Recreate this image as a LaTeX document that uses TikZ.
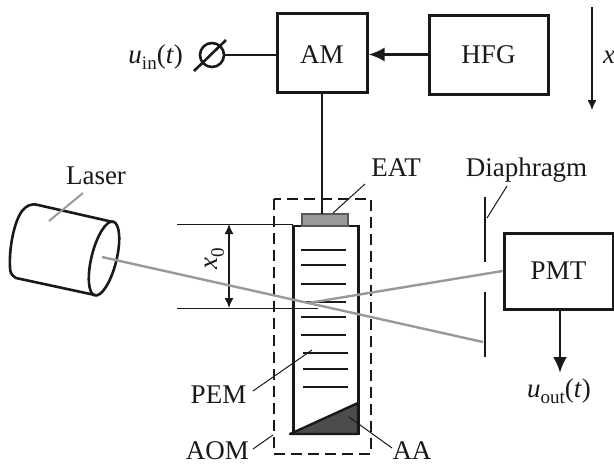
\documentclass[tikz,border=0pt]{standalone}
\usepackage{fontspec}
\setmainfont{Liberation Serif}
\usetikzlibrary{arrows.meta}
\definecolor{ink}{gray}{0.1}
\definecolor{beam}{gray}{0.6}
\newcommand{\subtxt}[1]{\raisebox{-0.25em}{\fontsize{19}{20}\selectfont #1}}
\tikzset{
 x=1pt,y=-1pt,
 box/.style={draw=ink,line width=3pt,inner sep=0pt,font=\fontsize{27}{30}\selectfont,text=ink},
 lab/.style={inner sep=0pt,anchor=base,font=\fontsize{27}{30}\selectfont,text=ink},
 heavy/.style={draw=ink,line width=2.6pt},
 fine/.style={draw=ink,line width=1pt},
 bar/.style={draw=ink,line width=2.6pt},
 beamline/.style={draw=beam,line width=2.4pt},
 greyleader/.style={draw=beam,line width=2pt},
 bigarrow/.style={-{Latex[length=16pt,width=14pt]}},
 smallarrow/.style={-{Latex[length=10pt,width=9pt]}},
 dbl/.style={{Latex[length=10pt,width=9pt]}-{Latex[length=10pt,width=9pt]}},
}
\begin{document}
\begin{tikzpicture}
\useasboundingbox (0,0) rectangle (614,466);
% blocks
\node[box,minimum width=90pt,minimum height=79pt,text height=21pt,text depth=0pt] (am) at (322,52.5) {AM};
\node[box,minimum width=119pt,minimum height=79pt,text height=17pt,text depth=0pt] (hfg) at (488.5,54.5) {HFG};
\node[box,minimum width=109pt,minimum height=76pt,text height=16pt,text depth=0pt] (pmt) at (558.5,271) {PMT};
% input terminal
\coordinate (term) at (212,55);
\draw[heavy] (term) circle (12pt);
\coordinate (sa) at (194,71);
\coordinate (sb) at (226,40);
\draw[heavy] (sa) -- (sb);
\coordinate (tr) at (224,55);
\draw[heavy] (tr) -- (am.west |- tr);
\draw[heavy,bigarrow] (hfg.west) -- (am.east |- hfg.west);
% axis
\coordinate (xa) at (592,7);
\coordinate (xb) at (592,110);
\draw[draw=ink,line width=1.2pt,smallarrow] (xa) -- (xb);
% dashed AOM box
\draw[draw=ink,line width=2.2pt,dash pattern=on 11pt off 6pt] (274,199) rectangle (371,454);
% cell
\node[draw=ink,line width=2.6pt,minimum width=65pt,minimum height=208pt,inner sep=0pt] (cell) at (326,330) {};
\node[draw=black!65,fill=black!40,line width=2.2pt,minimum width=46pt,minimum height=12pt,inner sep=0pt] (eat) at (325,220) {};
\draw[heavy] (am.south -| 322,0) -- (322,214);
\foreach \y/\a/\b in {250/301/346,265/301/346,284/301/346,302/301/346,317/301/346,335/301/346,353/303/348,369/303/348,387/303/348}
  \draw[bar] (\a,\y) -- (\b,\y);
\draw[draw=ink,fill=black!70,line width=2.4pt,line join=round] (290,434) -- (358,403) -- (358,434) -- cycle;
% x0 markers
\coordinate (ta) at (177,224);
\coordinate (tb) at (293,224);
\coordinate (ba) at (177,308);
\coordinate (bb) at (318,308);
\draw[fine] (ta) -- (tb);
\draw[fine] (ba) -- (bb);
\coordinate (xta) at (229,224);
\coordinate (xtb) at (229,308);
\draw[draw=ink,line width=1.4pt,dbl] (xta) -- (xtb);
\node[lab,rotate=90,anchor=base] (xz) at (217,259) {\textit{x}\subtxt{0}};
% laser
\coordinate (lc) at (104,258.5);
\draw[heavy,line join=round] (113,222) -- (38,205) .. controls (31,203) and (26,206) .. (22,211) .. controls (14,222) and (9,248) .. (10,267) .. controls (10,272) and (11,275) .. (16,278) -- (95,295);
\draw[heavy,rotate around={-14:(lc)}] (lc) ellipse (12.5pt and 38pt);
% diaphragm
\coordinate (da) at (485,197);
\coordinate (db) at (485,262);
\coordinate (dc) at (485,292);
\coordinate (dd) at (485,357);
\draw[draw=ink,line width=2.6pt] (da) -- (db);
\draw[draw=ink,line width=2.6pt] (dc) -- (dd);
% beams
\coordinate (lb) at (102,257);
\coordinate (be) at (483,342);
\coordinate (cr) at (308,303);
\draw[beamline] (lb) -- (be);
\draw[beamline] (cr) -- (pmt.west);
% output
\coordinate (oe) at (560,373);
\draw[heavy,line width=2.7pt,bigarrow] (pmt.south -| oe) -- (oe);
% labels
\node[lab] (laser) at (96,184) {Laser};
\node[lab] (eatl) at (396,176) {EAT};
\node[lab] (diaph) at (526.5,176) {Diaphragm};
\node[lab] (pem) at (218.5,403) {PEM};
\node[lab] (aom) at (217.5,459) {AOM};
\node[lab] (aa) at (412,459) {AA};
\node[lab,anchor=base east] (uin) at (183,63) {\textit{u}\subtxt{in}(\textit{t})};
\node[lab] (uout) at (559,397) {\textit{u}\subtxt{out}(\textit{t})};
\node[lab,anchor=base west] (xl) at (603,63) {\textit{x}};
% leaders
\draw[greyleader] (83,193) -- (49,221);
\draw[fine] (365,184) -- (333,213);
\draw[fine] (507,186) -- (487,218);
\draw[fine] (253,391) -- (312,350);
\draw[fine] (253,449) -- (273,435);
\draw[fine] (349,417) -- (392,448);
\end{tikzpicture}
\end{document}
